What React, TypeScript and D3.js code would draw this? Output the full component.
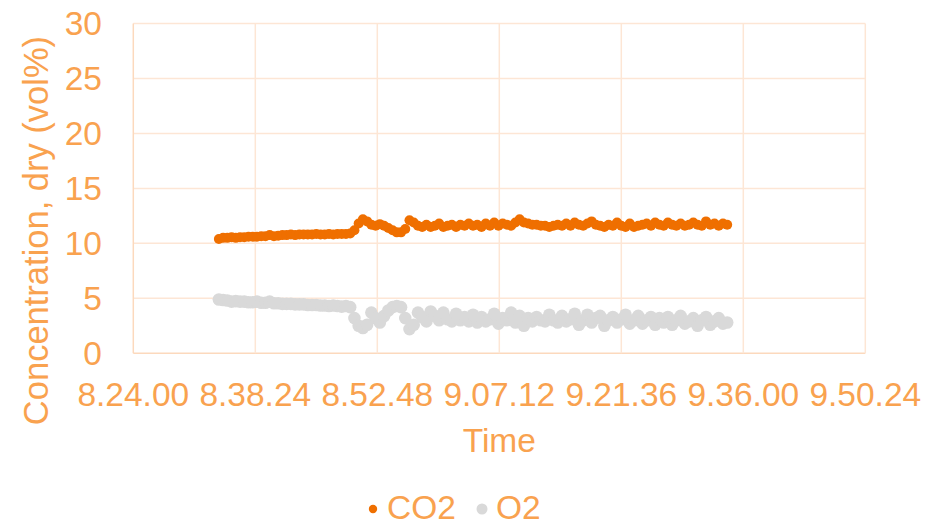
import React from 'react';
import * as d3 from 'd3';

const times = [
  "8:34:06","8:34:36","8:35:06","8:35:36","8:36:06","8:36:36","8:37:06","8:37:36","8:38:06","8:38:36",
  "8:39:06","8:39:36","8:40:06","8:40:36","8:41:06","8:41:36","8:42:06","8:42:36","8:43:06","8:43:36",
  "8:44:06","8:44:36","8:45:06","8:45:36","8:46:06","8:46:36","8:47:06","8:47:36","8:48:06","8:48:36",
  "8:49:06","8:49:36","8:50:06","8:50:36","8:51:06","8:51:36","8:52:06","8:52:36","8:53:06","8:53:36",
  "8:54:06","8:54:36","8:55:06","8:55:36","8:56:06","8:56:36","8:57:06","8:57:36","8:58:06","8:58:36",
  "8:59:06","8:59:36","9:00:06","9:00:36","9:01:06","9:01:36","9:02:06","9:02:36","9:03:06","9:03:36",
  "9:04:06","9:04:36","9:05:06","9:05:36","9:06:06","9:06:36","9:07:06","9:07:36","9:08:06","9:08:36",
  "9:09:06","9:09:36","9:10:06","9:10:36","9:11:06","9:11:36","9:12:06","9:12:36","9:13:06","9:13:36",
  "9:14:06","9:14:36","9:15:06","9:15:36","9:16:06","9:16:36","9:17:06","9:17:36","9:18:06","9:18:36",
  "9:19:06","9:19:36","9:20:06","9:20:36","9:21:06","9:21:36","9:22:06","9:22:36","9:23:06","9:23:36",
  "9:24:06","9:24:36","9:25:06","9:25:36","9:26:06","9:26:36","9:27:06","9:27:36","9:28:06","9:28:36",
  "9:29:06","9:29:36","9:30:06","9:30:36","9:31:06","9:31:36","9:32:06","9:32:36","9:33:06","9:33:36",
  "9:34:06"
];

const co2 = [
  10.4, 10.5, 10.5, 10.55, 10.5, 10.55, 10.55, 10.6, 10.6, 10.6,
  10.65, 10.65, 10.75, 10.65, 10.7, 10.75, 10.75, 10.8, 10.75, 10.8,
  10.8, 10.8, 10.8, 10.85, 10.8, 10.8, 10.85, 10.8, 10.85, 10.85,
  10.85, 10.9, 11.2, 11.8, 12.2, 12.0, 11.7, 11.6, 11.75, 11.6,
  11.4, 11.2, 11.0, 11.0, 11.3, 12.1, 11.9, 11.6, 11.5, 11.7,
  11.5, 11.6, 11.8, 11.5, 11.6, 11.7, 11.5, 11.7, 11.6, 11.8,
  11.6, 11.7, 11.5, 11.8, 11.6, 11.9, 11.6, 11.8, 11.7, 11.6,
  11.9, 12.2, 11.9, 11.8, 11.7, 11.7, 11.6, 11.6, 11.5, 11.6,
  11.7, 11.6, 11.8, 11.6, 11.9, 11.7, 11.6, 11.8, 12.0, 11.7,
  11.6, 11.5, 11.7, 11.6, 11.9, 11.6, 11.5, 11.8, 11.5, 11.6,
  11.7, 11.8, 11.6, 11.9, 11.7, 11.6, 11.9, 11.7, 11.6, 11.8,
  11.6, 11.7, 11.9, 11.7, 11.6, 12.0, 11.7, 11.8, 11.6, 11.8,
  11.7
];

const o2 = [
  4.9, 4.85, 4.8, 4.7, 4.75, 4.7, 4.7, 4.65, 4.65, 4.7,
  4.6, 4.6, 4.7, 4.55, 4.55, 4.5, 4.5, 4.5, 4.45, 4.45,
  4.45, 4.4, 4.4, 4.4, 4.35, 4.35, 4.3, 4.35, 4.3, 4.25,
  4.3, 4.2, 3.2, 2.5, 2.3, 2.6, 3.7, 3.2, 2.8, 3.4,
  3.9, 4.2, 4.3, 4.2, 3.2, 2.2, 2.6, 3.7, 3.3, 2.9,
  3.8, 3.4, 3.0, 3.7, 3.1, 2.9, 3.6, 3.0, 3.3, 2.9,
  3.5, 2.8, 3.3, 2.9, 3.1, 3.6, 2.7, 3.2, 3.0, 3.7,
  2.8, 3.4, 2.5, 3.2, 2.9, 3.3, 3.0, 2.9, 3.5, 3.0,
  2.8, 3.4, 2.9, 3.1, 3.6, 2.6, 3.0, 3.5, 2.8, 3.2,
  3.4, 2.5, 3.0, 3.3, 2.8, 3.1, 3.5, 2.7, 3.0, 3.4,
  2.7, 3.0, 3.3, 2.6, 3.2, 2.8, 3.3, 2.6, 3.0, 3.4,
  2.7, 2.9, 3.2, 2.5, 3.0, 3.3, 2.6, 2.9, 3.2, 2.7,
  2.8
];

const xTickLabels = ["8.24.00", "8.38.24", "8.52.48", "9.07.12", "9.21.36", "9.36.00", "9.50.24"];
const yTicks = [0, 5, 10, 15, 20, 25, 30];
const seriesNames = ["CO2", "O2"];
const xTitle = "Time";
const yTitle = "Concentration, dry (vol%)";

const toMin = (s: string, sep: string) => {
  const [h, m, sec] = s.split(sep).map(Number);
  return h * 60 + m + sec / 60;
};

export default function App() {
  const W = 941, H = 526;
  const left = 133.3, right = 865.3, top = 23.5, bottom = 353.3;
  const textColor = "#F9A24F";
  const gridColor = "#FDE6D5";
  const axisColor = "#FCD9BD";
  const font = "'Liberation Sans', Arial, sans-serif";
  const fs = 33.5;

  const xTickVals = xTickLabels.map(s => toMin(s, "."));
  const x = d3.scaleLinear().domain([xTickVals[0], xTickVals[xTickVals.length - 1]]).range([left, right]);
  const y = d3.scaleLinear().domain([0, 30]).range([bottom, top]);
  const tMin = times.map(s => toMin(s, ":"));

  const series = [
    { name: seriesNames[0], values: co2, color: "#EF6F00", r: 5, lr: 4.2 },
    { name: seriesNames[1], values: o2, color: "#D9D9D9", r: 6.3, lr: 5.5 },
  ];

  return (
    <svg width={W} height={H} style={{ position: "absolute", left: 0, top: 0, background: "#fff" }} fontFamily={font}>
      {yTicks.map(t => (
        <line key={"gy" + t} x1={left} x2={right} y1={y(t)} y2={y(t)} stroke={t === 0 ? axisColor : gridColor} strokeWidth={1.5} />
      ))}
      {xTickVals.map((t, i) => (
        <line key={"gx" + i} x1={x(t)} x2={x(t)} y1={top} y2={bottom} stroke={i === 0 ? axisColor : gridColor} strokeWidth={1.5} />
      ))}
      {yTicks.map(t => (
        <text key={"ty" + t} x={102} y={y(t)} dy="0.35em" textAnchor="end" fill={textColor} fontSize={fs}>{t}</text>
      ))}
      {xTickVals.map((t, i) => (
        <text key={"tx" + i} x={x(t)} y={405.5} textAnchor="middle" fill={textColor} fontSize={fs}>{xTickLabels[i]}</text>
      ))}
      <text x={(left + right) / 2} y={452} textAnchor="middle" fill={textColor} fontSize={fs}>{xTitle}</text>
      <text transform={`translate(47.5,230.5) rotate(-90)`} textAnchor="middle" fill={textColor} fontSize={34.5}>{yTitle}</text>
      {series.map(s => (
        <g key={s.name}>
          {s.values.map((v, i) => (
            <circle key={i} cx={x(tMin[i])} cy={y(v)} r={s.r} fill={s.color} />
          ))}
        </g>
      ))}
      <g>
        <circle cx={373} cy={509} r={series[0].lr} fill={series[0].color} />
        <text x={387} y={519} fill={textColor} fontSize={fs}>{seriesNames[0]}</text>
        <circle cx={482} cy={509} r={series[1].lr} fill={series[1].color} />
        <text x={496} y={519} fill={textColor} fontSize={fs}>{seriesNames[1]}</text>
      </g>
    </svg>
  );
}
